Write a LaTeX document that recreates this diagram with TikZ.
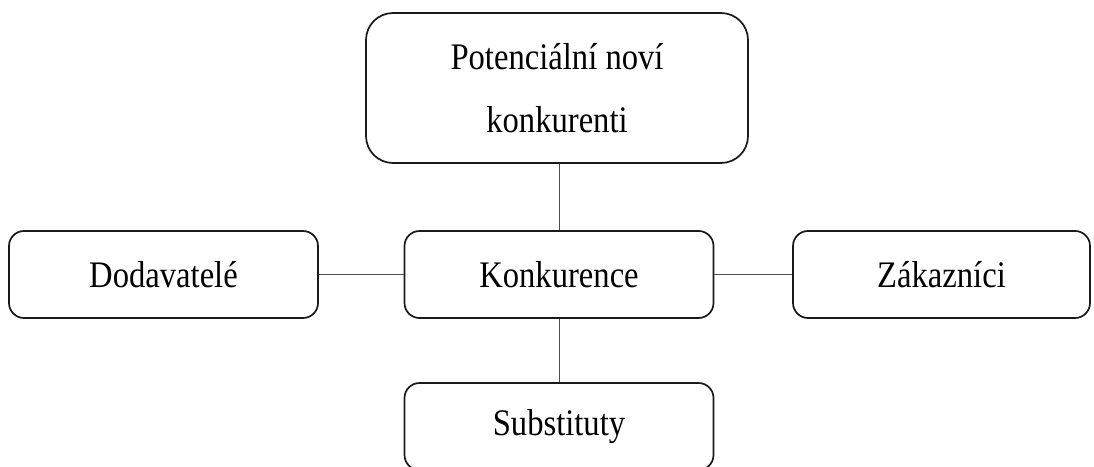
\documentclass[tikz,border=0pt]{standalone}
\usepackage{fontspec}
\setmainfont{Liberation Serif}[FakeStretch=0.87]
\usepackage{tikz}

\begin{document}
\begin{tikzpicture}
[every node/.style={inner sep=0pt},
 box/.style={rectangle, rounded corners=15pt, minimum width=309pt, minimum height=87pt, line width=1.7pt, draw=black!90, fill=white, font=\fontsize{37.5}{63}\selectfont},
 bigbox/.style={box, rounded corners=27pt, minimum width=382pt, minimum height=150pt, align=center},
 link/.style={line width=0.9pt, color=black!70}]
\clip (0pt, 0pt) rectangle (1094pt, -466pt);
\node (novi) [bigbox] at (557pt, -88pt) {Potenciální noví\\konkurenti};
\node (konk) [box] at (559pt, -274.5pt) {Konkurence};
\node (doda) [box] at (163.5pt, -274.5pt) {Dodavatelé};
\node (zak) [box, minimum width=297pt] at (941.5pt, -274.5pt) {Zákazníci};
\node (subst) [box] at (559pt, -426.5pt) {Substituty};
\draw [link] (novi.south -| konk.north) -- (konk.north);
\draw [link] (doda) -- (konk);
\draw [link] (konk) -- (zak);
\draw [link] (konk) -- (subst);
\end{tikzpicture}
\end{document}
